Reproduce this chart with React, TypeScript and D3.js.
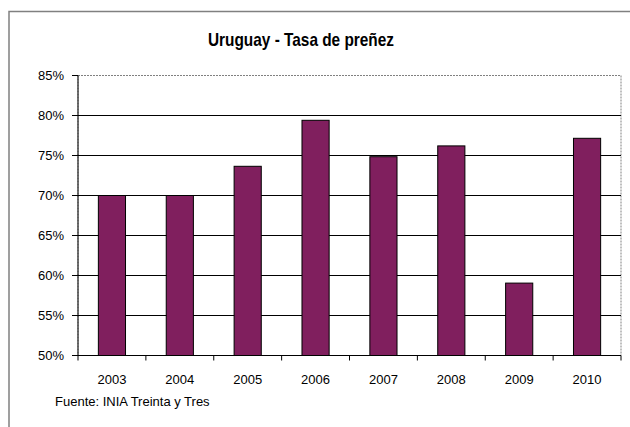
import React from "react";
import * as d3 from "d3";

const years = ["2003", "2004", "2005", "2006", "2007", "2008", "2009", "2010"];
const rates = [0.70, 0.70, 0.7365, 0.794, 0.7485, 0.762, 0.5905, 0.7715];
const yTicks = [0.5, 0.55, 0.6, 0.65, 0.7, 0.75, 0.8, 0.85];
const title = "Uruguay - Tasa de preñez";
const source = "Fuente: INIA Treinta y Tres";

const W = 630;
const H = 427;
const left = 78;
const right = 621;
const top = 75.5;
const bottom = 355.5;
const font = "Arial, 'Liberation Sans', sans-serif";

export default function App() {
  const x = d3.scaleBand<string>().domain(years).range([left, right]).paddingInner(0.6).paddingOuter(0.3);
  const xc = d3.scaleBand<string>().domain(years).range([left, right]).padding(0);
  const y = d3.scaleLinear().domain([0.5, 0.85]).range([bottom, top]);
  const fmt = d3.format(".0%");
  const boundaries = [...years.map((yv) => xc(yv) as number), right];

  return (
    <svg width={W} height={H} style={{ position: "absolute", left: 0, top: 0, background: "#fff" }}>
      <rect x={9} y={11.5} width={700} height={500} fill="#fff" stroke="#808080" strokeWidth={1.5} />
      <text
        x={301}
        y={46}
        textAnchor="middle"
        fontFamily={font}
        fontWeight="bold"
        fontSize={19}
        textLength={186}
        lengthAdjust="spacingAndGlyphs"
        fill="#000"
      >
        {title}
      </text>
      {/* plot area border */}
      <rect
        x={left}
        y={top}
        width={right - left}
        height={bottom - top}
        fill="#fff"
        stroke="#808080"
        strokeWidth={1}
        strokeDasharray="2,1"
      />
      {/* gridlines */}
      {yTicks
        .filter((t) => t > 0.5 && t < 0.85)
        .map((t) => (
          <line key={"g" + t} x1={left} x2={right} y1={y(t)} y2={y(t)} stroke="#000" strokeWidth={1} />
        ))}
      {/* bars */}
      {years.map((yr, i) => (
        <rect
          key={yr}
          x={x(yr)}
          y={y(rates[i])}
          width={x.bandwidth()}
          height={bottom - y(rates[i])}
          fill="#801F5E"
          stroke="#000"
          strokeWidth={1}
        />
      ))}
      {/* y axis */}
      <line x1={left} x2={left} y1={top} y2={bottom} stroke="#000" strokeWidth={1} />
      {yTicks.map((t) => (
        <g key={"y" + t}>
          <line x1={left - 6} x2={left} y1={y(t)} y2={y(t)} stroke="#000" strokeWidth={1} />
          <text
            x={64}
            y={y(t)}
            dy="0.36em"
            textAnchor="end"
            fontFamily={font}
            fontSize={13}
            fill="#000"
          >
            {fmt(t)}
          </text>
        </g>
      ))}
      {/* x axis */}
      <line x1={left} x2={right} y1={bottom} y2={bottom} stroke="#000" strokeWidth={1} />
      {boundaries.map((b, i) => (
        <line key={"xt" + i} x1={b} x2={b} y1={bottom} y2={bottom + 5} stroke="#000" strokeWidth={1} />
      ))}
      {years.map((yr) => (
        <text
          key={"xl" + yr}
          x={(xc(yr) as number) + xc.bandwidth() / 2}
          y={383.5}
          textAnchor="middle"
          fontFamily={font}
          fontSize={13}
          fill="#000"
        >
          {yr}
        </text>
      ))}
      <text x={55} y={405.5} fontFamily={font} fontSize={13} fill="#000">
        {source}
      </text>
    </svg>
  );
}
